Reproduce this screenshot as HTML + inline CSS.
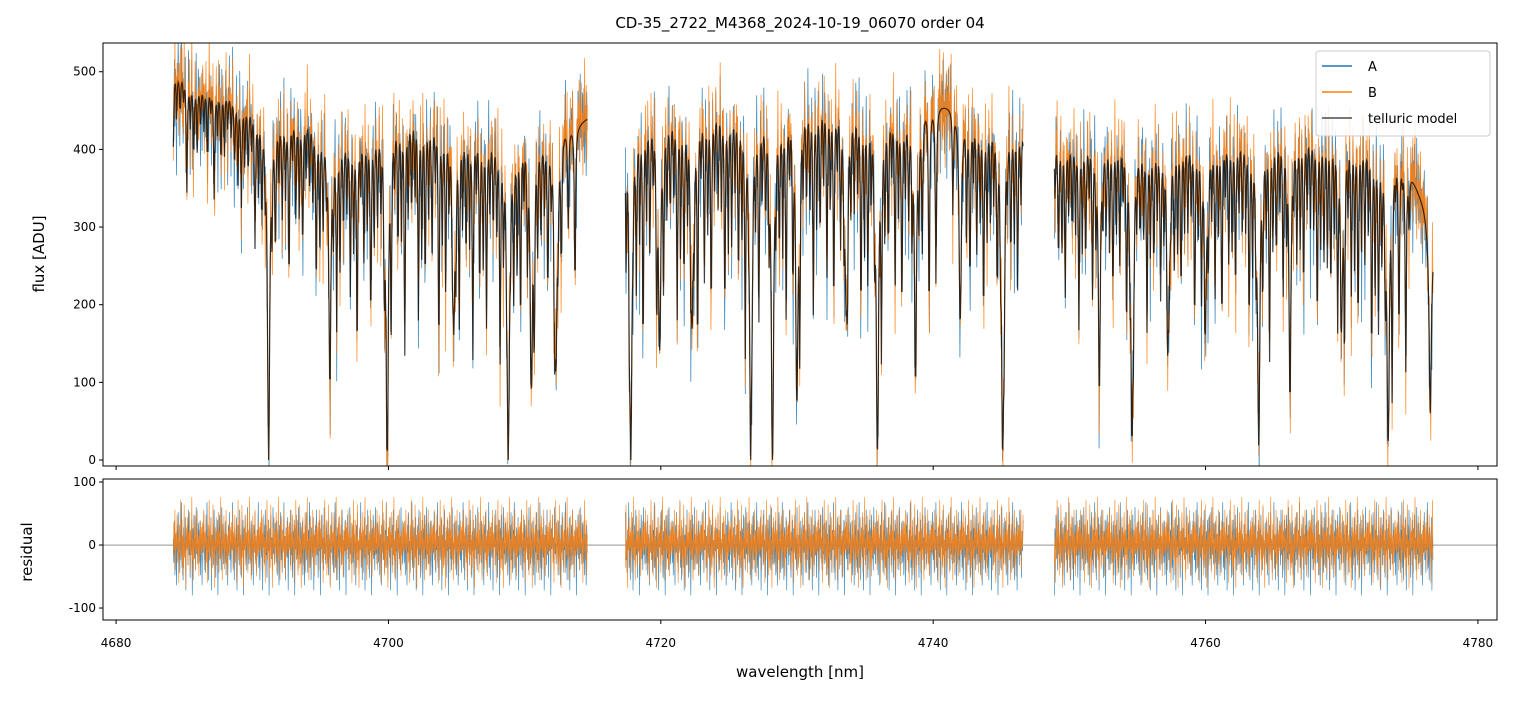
<!DOCTYPE html>
<html><head><meta charset="utf-8"><style>
body{margin:0;background:#fff;font-family:"Liberation Sans","DejaVu Sans",sans-serif}
svg text{font-family:"DejaVu Sans","Liberation Sans",sans-serif}
</style></head><body>
<svg id="c" width="1514" height="696" xmlns="http://www.w3.org/2000/svg">
<rect width="1514" height="696" fill="#fff"/>
<text x="800" y="28" text-anchor="middle" font-size="15">CD-35_2722_M4368_2024-10-19_06070  order 04</text>
<text transform="translate(44,254) rotate(-90)" text-anchor="middle" font-size="15">flux [ADU]</text>
<text transform="translate(32,552) rotate(-90)" text-anchor="middle" font-size="15">residual</text>
<text x="800" y="677" text-anchor="middle" font-size="15">wavelength [nm]</text>
<g id="g"></g>
</svg>
<script>
const segments=[[4684.2,4714.6],[4717.4,4746.6],[4748.9,4776.7]];
const contGrid=[4684,4686,4688,4690,4692,4694,4696,4698,4700,4702,4704,4706,4708,4710,4712,4714,4716,4718,4720,4722,4724,4726,4728,4730,4732,4734,4736,4738,4740,4742,4744,4746,4748,4750,4752,4754,4756,4758,4760,4762,4764,4766,4768,4770,4772,4774,4776,4778];
const contVals=[490,470,465,450,440,440,420,420,445,450,440,430,420,425,420,420,440,450,450,455,460,460,455,465,470,460,455,450,445,440,440,440,420,415,420,420,410,420,415,420,425,430,425,430,420,400,320,200];
const strongLines=[[4691.2,1.0],[4695.7,0.65],[4699.9,1.0],[4704.8,0.6],[4708.8,1.0],[4710.5,0.75],[4712.3,0.7],[4717.8,1.0],[4719.9,0.6],[4722.3,0.6],[4726.6,1.0],[4728.2,1.0],[4730.0,0.8],[4733.6,0.55],[4735.9,1.0],[4738.7,0.6],[4742.0,0.55],[4745.1,1.0],[4752.2,0.55],[4754.6,0.95],[4757.3,0.55],[4760.0,0.5],[4763.9,0.95],[4766.2,0.6],[4770.0,0.5],[4773.4,0.95],[4776.5,0.8]];
const weakDepths=[2,1,3,2,1,2,3,2,1,2,3,2,4,3,2,4,3,5,3,4,2,5,3,4,6,3,5,7,4,6,3,5,6,4,7,3,6,5,4,7,5,3,6,4,7,5,6,3,7,4,5,6,4,7,3,5,6,4,3,5,0,0,0,0,0,0,4,6,5,7,4,6,5,3,6,5,4,7,5,6,3,6,4,5,7,4,6,3,5,4,6,5,7,3,6,4,5,6,4,5,3,6,5,4,7,4,5,6,3,5,4,6,5,0,0,0,0,5,4,6,3,5,6,4,5,3,6,4,5,7,4,5,3,6,4,5,6,3,5,4,6,5,3,6,4,5,6,4,5,3,6,5,4,5,6,4,5,3,6,4,5,7,4,5,6,4,5,3,6,4,5,6,7,5,6,4,7,6,5,8,6,7];
const residA=[12,-35,48,-60,22,5,-80,40,-15,65,-30,8,-55,30,-10,85,-45,18,-70,35,2,-25,55,-90,20,-5,40,-40,70,-20,10,-65,28,-12,50,-100,33,-8,60,-28,15,-50,75,-18,4,-38,44];
const residB=[-20,45,-10,70,-50,25,-5,60,-35,15,-75,40,-15,90,-30,5,50,-60,20,-45,80,-25,10,-85,35,-10,55,-40,25,-5,65,-55,30,-20,95,-30,12,-70,42,-8,58,-48,22,-15,70,-38,18,-62,30,-22,48,-12,36];
const lims={x0:4679.04,x1:4781.4,y0:-7.7,y1:537,r0:-119,r1:104.8};
const PL=103,PR=1497,T1=43,B1=466,T2=479,B2=620;
const X=w=>PL+(w-lims.x0)/(lims.x1-lims.x0)*(PR-PL);
const Y=v=>B1-(v-lims.y0)/(lims.y1-lims.y0)*(B1-T1);
const R=v=>B2-(v-lims.r0)/(lims.r1-lims.r0)*(B2-T2);
const NS="http://www.w3.org/2000/svg",g=document.getElementById('g');
function el(t,a){const e=document.createElementNS(NS,t);for(const k in a)e.setAttribute(k,a[k]);g.appendChild(e);return e;}
function cont(w){for(let i=0;i<contGrid.length-1;i++)if(w<=contGrid[i+1]){const f=(w-contGrid[i])/(contGrid[i+1]-contGrid[i]);return contVals[i]+f*(contVals[i+1]-contVals[i]);}return contVals[contVals.length-1];}
function model(w){let t=1;for(const[c,d]of strongLines){const x=(w-c)/0.1;t*=1-d/(1+x*x);}
 for(let i=0;i<weakDepths.length;i++){const c=4684+i*0.5+0.2;const x=(w-c)/0.05;t*=1-weakDepths[i]/10/(1+x*x);
  const c2=c+0.25;const x2=(w-c2)/0.04;t*=1-weakDepths[(i+3)%weakDepths.length]/16/(1+x2*x2);}
 return cont(w)*t*1.04;}
const clipD=el('clipPath',{id:'c1'});const cr=document.createElementNS(NS,'rect');cr.setAttribute('x',PL);cr.setAttribute('y',T1);cr.setAttribute('width',PR-PL);cr.setAttribute('height',B1-T1);clipD.appendChild(cr);
const clipE=el('clipPath',{id:'c2'});const cr2=document.createElementNS(NS,'rect');cr2.setAttribute('x',PL);cr2.setAttribute('y',T2);cr2.setAttribute('width',PR-PL);cr2.setAttribute('height',B2-T2);clipE.appendChild(cr2);
el('line',{x1:PL,x2:PR,y1:R(0),y2:R(0),stroke:'#555','stroke-width':0.6});
let pA='',pB='',pM='',rA='',rB='';let k=0;
for(const[s,e]of segments){let first=true;
 for(let w=s;w<=e;w+=0.04){const m=model(w);const a=residA[k%residA.length],b=residB[k%residB.length];k++;
  const c=first?'M':'L';
  pM+=c+X(w).toFixed(1)+','+Y(m).toFixed(1);
  pA+=c+X(w).toFixed(1)+','+Y(Math.max(-20,m+a*0.9)).toFixed(1);
  pB+=c+X(w).toFixed(1)+','+Y(Math.max(-20,m+b*0.9)).toFixed(1);
  rA+=c+X(w).toFixed(1)+','+R(a*0.8).toFixed(1);
  rB+=c+X(w).toFixed(1)+','+R(b*0.8).toFixed(1);
  first=false;}}
let p=el('path',{d:pA,fill:'none',stroke:'#1f77b4','stroke-width':0.8,opacity:0.85,'clip-path':'url(#c1)'});


p=el('path',{d:pB,fill:'none',stroke:'#ff7f0e','stroke-width':0.8,opacity:0.85,'clip-path':'url(#c1)'});


p=el('path',{d:pM,fill:'none',stroke:'#000','stroke-width':1.2,opacity:0.75,'clip-path':'url(#c1)'});


p=el('path',{d:rA,fill:'none',stroke:'#1f77b4','stroke-width':0.7,opacity:0.85,'clip-path':'url(#c2)'});


p=el('path',{d:rB,fill:'none',stroke:'#ff7f0e','stroke-width':0.7,opacity:0.85,'clip-path':'url(#c2)'});


let f=el('rect',{x:PL,y:T1,width:PR-PL,height:B1-T1,fill:'none',stroke:'#000','stroke-width':1});


f=el('rect',{x:PL,y:T2,width:PR-PL,height:B2-T2,fill:'none',stroke:'#000','stroke-width':1});


const xTicks=[4680,4700,4720,4740,4760,4780];const yTicks=[0,100,200,300,400,500];const rTicks=[-100,0,100];
for(const t of xTicks){el('line',{x1:X(t),x2:X(t),y1:B1,y2:B1+4,stroke:'#000'});el('line',{x1:X(t),x2:X(t),y1:B2,y2:B2+4,stroke:'#000'});
 const tx=el('text',{x:X(t),y:B2+27,'text-anchor':'middle','font-size':12});tx.textContent=t;
 
 }
for(const t of yTicks){el('line',{x1:PL-4,x2:PL,y1:Y(t),y2:Y(t),stroke:'#000'});
 const tx=el('text',{x:PL-7,y:Y(t)+4,'text-anchor':'end','font-size':12});tx.textContent=t;
 
 }
for(const t of rTicks){el('line',{x1:PL-4,x2:PL,y1:R(t),y2:R(t),stroke:'#000'});
 const tx=el('text',{x:PL-7,y:R(t)+4,'text-anchor':'end','font-size':12});tx.textContent=t;
 
 }
const lg=el('rect',{x:1316,y:51,width:174,height:85,rx:3,fill:'#fff','fill-opacity':0.85,stroke:'#ccc'});


const entries=[['A','#1f77b4',1],['B','#ff7f0e',1],['telluric model','#000',0.7]];
entries.forEach((en,i)=>{const yy=66+i*26;el('line',{x1:1322,x2:1352,y1:yy,y2:yy,stroke:en[1],'stroke-width':1.5,opacity:en[2]});
 const tx=el('text',{x:1368,y:yy+5,'font-size':13});tx.textContent=en[0];
 
 });
</script>
</body></html>
